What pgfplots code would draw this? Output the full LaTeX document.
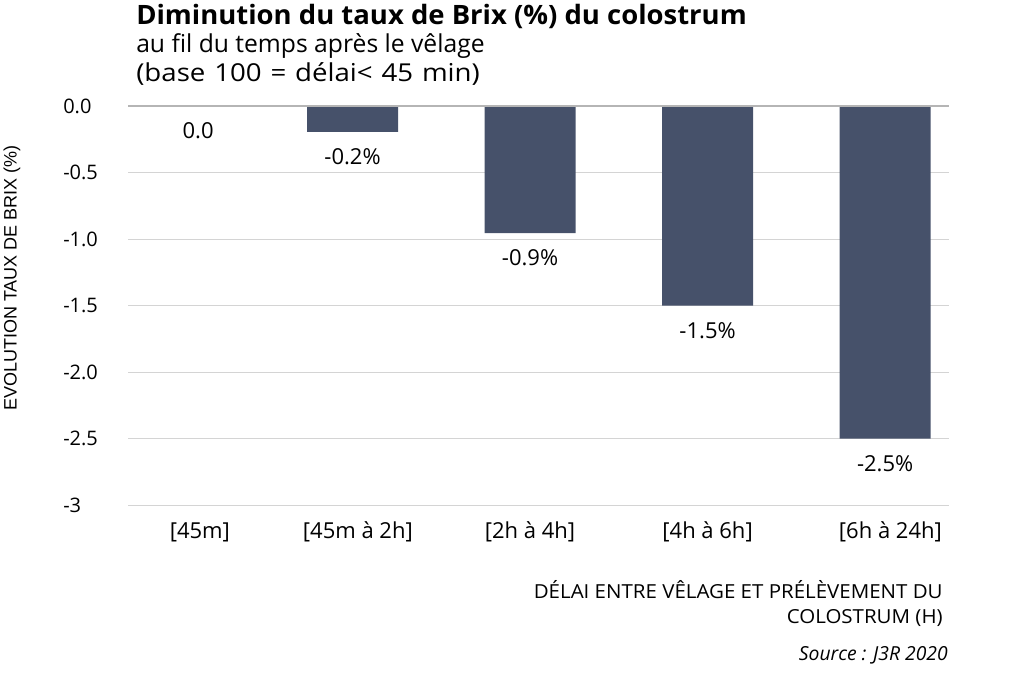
\documentclass[border=0pt]{standalone}
\usepackage{fontspec}
\setmainfont{Open Sans}
\newfontfamily\arialfont{Liberation Sans}
\usepackage{pgfplots}
\pgfplotsset{compat=1.18}
\definecolor{barblue}{HTML}{46516A}
\definecolor{gridgray}{HTML}{D4D4D4}
\definecolor{zerogray}{HTML}{B5B5B5}
\begin{document}
\begin{tikzpicture}
% 1 px of the reference = 0.75pt
\path[use as bounding box] (-96pt,-141pt) rectangle (671.25pt,378.75pt);
\begin{axis}[
    at={(0,0)}, anchor=south west,
    width=615.75pt, height=299.25pt, scale only axis,
    xmin=-0.265, xmax=4.36, ymin=-3, ymax=0,
    ybar, bar width=68.25pt,
    axis line style={draw=none},
    major tick length=0pt,
    ytick={-3,-2.5,-2,-1.5,-1,-0.5,0},
    yticklabels={-3,-2.5,-2.0,-1.5,-1.0,-0.5,0.0},
    ymajorgrids, grid style={gridgray, line width=0.75pt},
    xtick={0.14,1.03,2,3,4.03},
    xticklabels={{[45m]},{[45m à 2h]},{[2h à 4h]},{[4h à 6h]},{[6h à 24h]}},
    yticklabel style={anchor=west, inner sep=0pt, xshift=-48.75pt, font=\fontsize{15}{18}\selectfont},
    xticklabel style={anchor=base, inner sep=0pt, yshift=-24.75pt, font=\fontsize{16.5}{20}\selectfont},
    point meta=explicit symbolic,
    nodes near coords,
    nodes near coords style={anchor=center, yshift=-18.75pt, font=\fontsize{16.5}{20}\selectfont, text=black},
    clip=false,
]
\addplot[fill=barblue, draw=none] coordinates {
    (0.13,0) [0.0]
    (1,-0.195) [-0.2\%]
    (2,-0.955) [-0.9\%]
    (3,-1.5) [-1.5\%]
    (4,-2.5) [-2.5\%]
};
\draw[zerogray, line width=1.5pt] (rel axis cs:0,1) -- (rel axis cs:1,1);
\end{axis}
\node[anchor=base west, inner sep=0pt, xscale=1.03, font=\fontsize{20}{24}\selectfont\bfseries] at (6pt,360pt) {Diminution du taux de Brix (\%) du colostrum};
\node[anchor=base west, inner sep=0pt, font=\fontsize{18.5}{22}\selectfont] at (6pt,339pt) {au fil du temps après le vêlage};
\node[anchor=base west, inner sep=0pt, xscale=1.12, font=\fontsize{18.5}{22}\selectfont] at (6pt,317.25pt) {\spaceskip 0.32em\relax (base 100 = délai< 45 min)};
\node[rotate=90, inner sep=0pt, font=\arialfont\fontsize{13.5}{16}\selectfont] at (-87pt,170.25pt) {EVOLUTION TAUX DE BRIX (\%)};
\node[anchor=base east, inner sep=0pt, xscale=1.06, font=\fontsize{14.5}{17}\selectfont] at (611.25pt,-69.75pt) {DÉLAI ENTRE VÊLAGE ET PRÉLÈVEMENT DU};
\node[anchor=base east, inner sep=0pt, xscale=1.06, font=\fontsize{14.5}{17}\selectfont] at (611.25pt,-88.5pt) {COLOSTRUM (H)};
\node[anchor=base east, inner sep=0pt, font=\fontsize{14.5}{17}\selectfont\itshape] at (615pt,-116.25pt) {Source : J3R 2020};
\end{tikzpicture}
\end{document}
